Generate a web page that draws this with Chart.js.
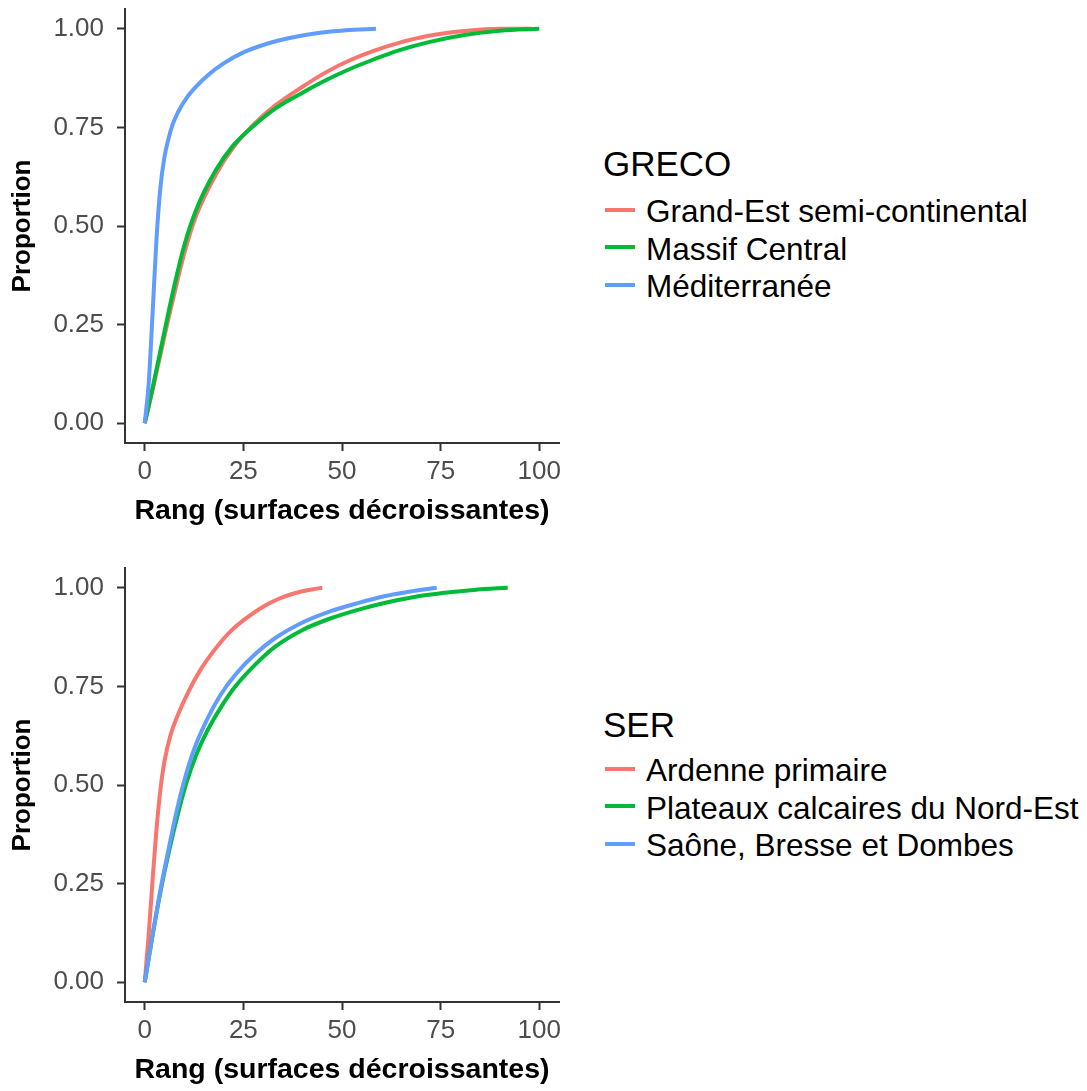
<!DOCTYPE html>
<html lang="fr">
<head>
    <meta charset="UTF-8">
    <title>Proportion cumulée par rang</title>
    <script src="https://cdn.jsdelivr.net/npm/chart.js@4.4.1/dist/chart.umd.min.js"></script>
    <style>
        body { margin: 0; background: #fff; font-family: 'Liberation Sans', Arial, sans-serif; }
        .page { position: relative; width: 1087px; height: 1091px; background: #fff; overflow: hidden; }
        .page canvas { position: absolute; left: 0; }
        .leg-title { position: absolute; left: 603px; font-size: 35px; line-height: 35px; color: #000; white-space: nowrap; }
        .leg-row { position: absolute; left: 605px; height: 31.5px; display: flex; align-items: center; font-size: 31.5px; line-height: 31.5px; color: #000; white-space: nowrap; }
        .leg-key { width: 30px; height: 4px; margin-right: 11px; position: relative; top: -2px; }
    </style>
</head>
<body>
<div class="page" id="page">
    <canvas id="grecoChart" width="570" height="545" style="top:0px"></canvas>
    <canvas id="serChart" width="570" height="545" style="top:559px"></canvas>
</div>
<script>
    // ticks
    const xTicks = [0, 25, 50, 75, 100];
    const yTicks = [0, 0.25, 0.50, 0.75, 1.00];
    const colors = ['#F8766D', '#00BA38', '#619CFF'];

    // GRECO
    const grecoTitle = 'GRECO';
    const grecoNames = ['Grand-Est semi-continental', 'Massif Central', 'Méditerranée'];
    const grandEstRank = [0, 2, 4, 6, 8, 10, 13, 18, 22.5, 27.7, 33, 40, 46, 52, 58, 64, 72, 81, 90, 98];
    const grandEstProp = [0, 0.085, 0.175, 0.265, 0.35, 0.43, 0.525, 0.63, 0.70, 0.758, 0.805, 0.853, 0.89, 0.92, 0.944, 0.963, 0.982, 0.994, 1.0, 1.0];
    const massifRank = [0, 2, 4, 6, 8, 10, 13, 18, 22.5, 27.7, 33, 40, 46, 52, 58, 64, 72, 81, 90, 100];
    const massifProp = [0, 0.09, 0.185, 0.28, 0.37, 0.45, 0.54, 0.641, 0.705, 0.755, 0.797, 0.838, 0.87, 0.898, 0.922, 0.944, 0.966, 0.984, 0.995, 1.0];
    const mediRank = [0, 1, 2, 3, 4, 5, 6, 7, 8.5, 10.5, 13, 16, 20, 25, 31, 37, 44, 51, 58.6];
    const mediProp = [0, 0.10, 0.28, 0.47, 0.60, 0.675, 0.72, 0.755, 0.79, 0.823, 0.853, 0.882, 0.912, 0.94, 0.962, 0.977, 0.989, 0.996, 1.0];

    // SER
    const serTitle = 'SER';
    const serNames = ['Ardenne primaire', 'Plateaux calcaires du Nord-Est', 'Saône, Bresse et Dombes'];
    const ardenneRank = [0, 1, 2, 3, 4, 5, 6.5, 8.5, 11, 14, 17.5, 21.8, 26, 30, 34, 38, 42, 45];
    const ardenneProp = [0, 0.12, 0.26, 0.39, 0.49, 0.56, 0.625, 0.68, 0.735, 0.79, 0.84, 0.89, 0.925, 0.952, 0.972, 0.986, 0.995, 1.0];
    const plateauxRank = [0, 2, 4, 6, 8, 10.4, 13, 16, 19.5, 23, 28, 33, 40, 47, 54, 61, 68, 76, 84, 92];
    const plateauxProp = [0, 0.12, 0.23, 0.325, 0.41, 0.50, 0.575, 0.64, 0.70, 0.75, 0.805, 0.85, 0.893, 0.922, 0.944, 0.962, 0.976, 0.987, 0.995, 1.0];
    const saoneRank = [0, 2, 4, 6, 8, 10, 12.5, 15.5, 19, 23, 28, 33, 40, 47, 54, 61, 67, 74];
    const saoneProp = [0, 0.12, 0.235, 0.335, 0.43, 0.51, 0.59, 0.66, 0.725, 0.78, 0.832, 0.872, 0.912, 0.94, 0.961, 0.979, 0.99, 1.0];

    const fam = "'Liberation Sans', Arial, sans-serif";

    function toPoints(xs, ys) {
        return xs.map((x, i) => ({ x: x, y: ys[i] }));
    }

    function makeChart(id, names, series) {
        const datasets = series.map((s, i) => ({
            label: names[i],
            data: toPoints(s[0], s[1]),
            borderColor: colors[i],
            backgroundColor: colors[i],
            borderWidth: 4,
            pointRadius: 0,
            showLine: true,
            fill: false,
            cubicInterpolationMode: 'monotone',
            order: 3 - i
        }));
        return new Chart(document.getElementById(id), {
            type: 'scatter',
            data: { datasets },
            options: {
                responsive: false,
                animation: false,
                devicePixelRatio: 1,
                layout: { padding: { left: 0, top: 9, right: 11, bottom: 0 } },
                plugins: { legend: { display: false }, tooltip: { enabled: false } },
                scales: {
                    x: {
                        type: 'linear', min: -5, max: 105,
                        afterBuildTicks: s => { s.ticks = xTicks.map(v => ({ value: v })); },
                        afterFit: s => { s.height = 102; s.paddingLeft = 0; s.paddingRight = 0; },
                        ticks: { font: { size: 26, family: fam }, color: '#4d4d4d', padding: 5, maxRotation: 0, autoSkip: false },
                        grid: { drawOnChartArea: false, tickLength: 8, tickColor: '#333', tickWidth: 2 },
                        border: { color: '#333', width: 2 },
                        title: { display: true, text: 'Rang (surfaces décroissantes)', color: '#000',
                                 font: { size: 28.5, weight: 'bold', family: fam }, padding: { top: 0, bottom: 17 } }
                    },
                    y: {
                        type: 'linear', min: -0.05, max: 1.05,
                        afterBuildTicks: s => { s.ticks = yTicks.map(v => ({ value: v })); },
                        afterFit: s => { s.width = 125; s.paddingTop = 0; s.paddingBottom = 0; },
                        ticks: { font: { size: 26, family: fam }, color: '#4d4d4d', padding: 13,
                                 callback: v => v.toFixed(2) },
                        grid: { drawOnChartArea: false, tickLength: 8, tickColor: '#333', tickWidth: 2 },
                        border: { color: '#333', width: 2 },
                        title: { display: true, text: 'Proportion', color: '#000',
                                 font: { size: 26, weight: 'bold', family: fam }, padding: { top: 7, bottom: 0 } }
                    }
                }
            }
        });
    }

    makeChart('grecoChart', grecoNames, [[grandEstRank, grandEstProp], [massifRank, massifProp], [mediRank, mediProp]]);
    makeChart('serChart', serNames, [[ardenneRank, ardenneProp], [plateauxRank, plateauxProp], [saoneRank, saoneProp]]);

    // légendes
    const page = document.getElementById('page');
    function addLegend(title, names, titleTop, rowTop) {
        const t = document.createElement('div');
        t.className = 'leg-title';
        t.style.top = titleTop + 'px';
        t.textContent = title;
        page.appendChild(t);
        names.forEach((n, i) => {
            const row = document.createElement('div');
            row.className = 'leg-row';
            row.style.top = (rowTop + i * 37.5) + 'px';
            row.innerHTML = `<span class="leg-key" style="background:${colors[i]}"></span><span>${n}</span>`;
            page.appendChild(row);
        });
    }
    addLegend(grecoTitle, grecoNames, 146, 196);
    addLegend(serTitle, serNames, 707, 755);
</script>
</body>
</html>
